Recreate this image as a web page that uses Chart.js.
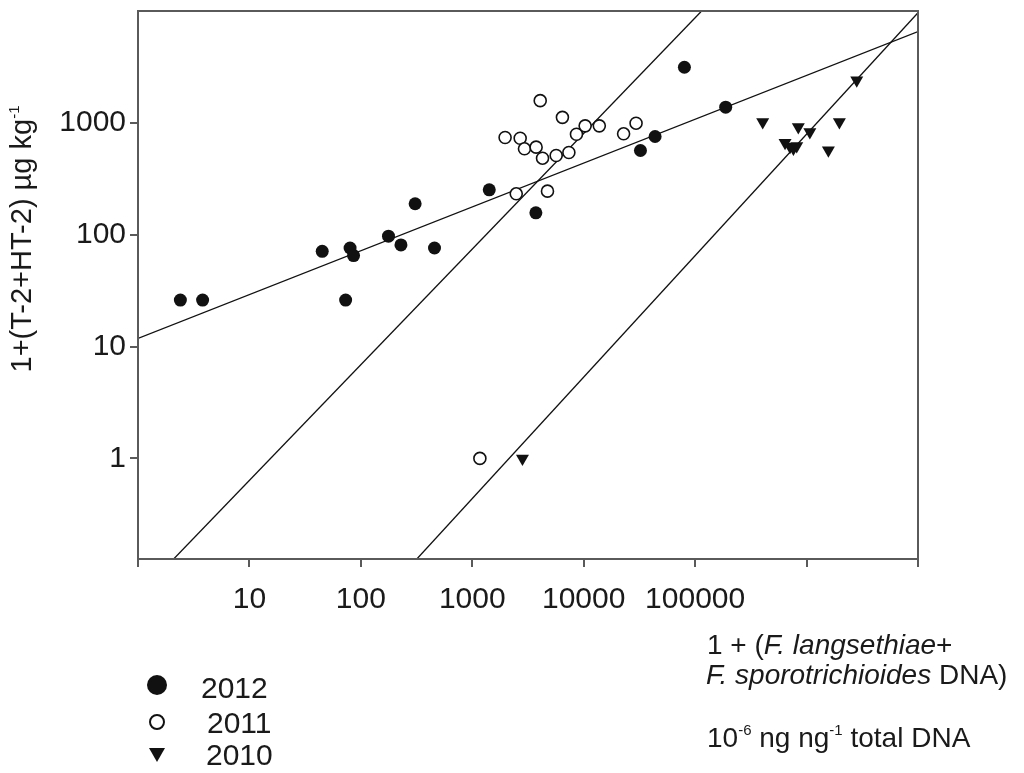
<!DOCTYPE html>
<html>
<head>
<meta charset="utf-8">
<script src="https://cdn.jsdelivr.net/npm/chart.js@4.4.1/dist/chart.umd.min.js"></script>
<style>
  body { margin: 0; background: #fff; }
  #wrap { position: relative; width: 1024px; height: 773px; overflow: hidden; font-family: "Liberation Sans", Arial, sans-serif; color: #1a1a1a; }
  #chart { position: absolute; left: 0; top: 0; }
  .txt { position: absolute; white-space: nowrap; font-size: 28px; line-height: 32px; }
  .txt sup { font-size: 15px; vertical-align: 12px; line-height: 0; }
  #ytitle { left: -179px; top: 223px; width: 400px; text-align: center; transform: rotate(-90deg); font-size: 29px; }
  .leg { position: absolute; white-space: nowrap; font-size: 30px; line-height: 34px; }
  .mk { position: absolute; box-sizing: border-box; }
</style>
</head>
<body>
<div id="wrap">
  <canvas id="chart" width="1024" height="773"></canvas>
  <div class="txt" id="ytitle">1+(T-2+HT-2) µg kg<sup>-1</sup></div>
  <div class="txt" style="left:707px; top:629px;">1 + (<i>F. langsethiae</i>+</div>
  <div class="txt" style="left:706px; top:659px;"><i>F. sporotrichioides</i> DNA)</div>
  <div class="txt" style="left:707px; top:722px;">10<sup>-6</sup> ng ng<sup>-1</sup> total DNA</div>

  <div class="mk" style="left:147px; top:675px; width:20px; height:20px; border-radius:50%; background:#111;"></div>
  <div class="leg" style="left:201px; top:671px;">2012</div>
  <div class="mk" style="left:149px; top:714px; width:16px; height:16px; border-radius:50%; border:2.5px solid #111; background:#fff;"></div>
  <div class="leg" style="left:207px; top:706px;">2011</div>
  <div class="mk" style="left:149px; top:748px; width:0; height:0; border-left:8px solid transparent; border-right:8px solid transparent; border-top:14px solid #111;"></div>
  <div class="leg" style="left:206px; top:738px;">2010</div>
</div>

<script>
// tick positions and labels
const xTicks = [1, 10, 100, 1000, 10000, 100000, 1000000, 10000000];
const xTickLabels = ['', '10', '100', '1000', '10000', '100000', '', ''];
const yTicks = [1, 10, 100, 1000];
const yTickLabels = ['1', '10', '100', '1000'];

// 2012 (filled circles)
const x2012 = [2.4, 3.8, 45, 80, 86, 73, 177, 229, 307, 458, 1420, 3720, 32300, 43700, 80100, 188000];
const y2012 = [26, 26, 71, 76, 65, 26, 97, 81, 189, 76, 252, 157, 566, 755, 3140, 1380];

// 2011 (open circles)
const x2011 = [1170, 1970, 2480, 2690, 2940, 3740, 4070, 4270, 4730, 5660, 6440, 7360, 8610, 10300, 13800, 22800, 29500];
const y2011 = [1, 739, 232, 729, 586, 606, 1580, 483, 245, 511, 1120, 543, 791, 940, 940, 798, 993];

// 2010 (down triangles)
const x2010 = [2820, 404000, 641000, 711000, 762000, 816000, 843000, 1070000, 1570000, 1970000, 2820000];
const y2010 = [1, 1020, 665, 610, 590, 620, 920, 830, 570, 1020, 2400];

// fitted lines, end points
const fit2012X = [1, 10000000];
const fit2012Y = [11.8, 6550];
const fit2011X = [2.09, 112700];
const fit2011Y = [0.126, 9860];
const fit2010X = [318, 10000000];
const fit2010Y = [0.126, 9640];

const toPoints = (xs, ys) => xs.map((x, i) => ({ x: x, y: ys[i] }));

const framePlugin = {
    id: 'frame',
    afterDraw(chart) {
        const { ctx, chartArea: a } = chart;
        ctx.save();
        ctx.strokeStyle = '#5a5a5a';
        ctx.lineWidth = 2;
        ctx.strokeRect(a.left, a.top, a.right - a.left, a.bottom - a.top);
        ctx.restore();
    }
};

const fitLine = (xs, ys) => ({
    type: 'line',
    data: toPoints(xs, ys),
    borderColor: '#111',
    borderWidth: 1.3,
    pointRadius: 0,
    fill: false,
    order: 2
});

// no extra room for half tick labels at the axis ends
const noPad = scale => {
    scale.paddingTop = 0;
    scale.paddingBottom = 0;
    scale.paddingLeft = 0;
    scale.paddingRight = 0;
};

const ctx = document.getElementById('chart').getContext('2d');
new Chart(ctx, {
    type: 'scatter',
    data: {
        datasets: [
            {
                label: '2012',
                data: toPoints(x2012, y2012),
                pointStyle: 'circle',
                pointRadius: 6.5,
                backgroundColor: '#111',
                borderColor: '#111',
                borderWidth: 0,
                order: 1
            },
            {
                label: '2011',
                data: toPoints(x2011, y2011),
                pointStyle: 'circle',
                pointRadius: 6,
                backgroundColor: '#fff',
                borderColor: '#111',
                borderWidth: 1.6,
                order: 1
            },
            {
                label: '2010',
                data: toPoints(x2010, y2010),
                pointStyle: 'triangle',
                rotation: 180,
                pointRadius: 7.5,
                backgroundColor: '#111',
                borderColor: '#111',
                borderWidth: 0,
                order: 1
            },
            fitLine(fit2012X, fit2012Y),
            fitLine(fit2011X, fit2011Y),
            fitLine(fit2010X, fit2010Y)
        ]
    },
    options: {
        responsive: false,
        animation: false,
        layout: {
            padding: { left: 0, top: 11, right: 106, bottom: 0 }
        },
        plugins: {
            legend: { display: false },
            tooltip: { enabled: false }
        },
        scales: {
            x: {
                type: 'logarithmic',
                min: 1,
                max: 10000000,
                afterBuildTicks: scale => {
                    scale.ticks = xTicks.map(v => ({ value: v }));
                },
                afterFit: scale => {
                    scale.height = 214;
                    noPad(scale);
                },
                grid: {
                    drawOnChartArea: false,
                    drawTicks: true,
                    tickLength: 8,
                    color: '#5a5a5a',
                    lineWidth: 2
                },
                border: { color: '#5a5a5a', width: 2 },
                ticks: {
                    autoSkip: false,
                    maxRotation: 0,
                    padding: 15,
                    color: '#1a1a1a',
                    font: { family: 'Liberation Sans', size: 30 },
                    callback: (value, index) => xTickLabels[index]
                }
            },
            y: {
                type: 'logarithmic',
                min: 0.126,
                max: 10000,
                afterBuildTicks: scale => {
                    scale.ticks = yTicks.map(v => ({ value: v }));
                },
                afterFit: scale => {
                    scale.width = 138;
                    noPad(scale);
                },
                grid: {
                    drawOnChartArea: false,
                    drawTicks: true,
                    tickLength: 8,
                    color: '#5a5a5a',
                    lineWidth: 2
                },
                border: { color: '#5a5a5a', width: 2 },
                ticks: {
                    autoSkip: false,
                    padding: 4,
                    color: '#1a1a1a',
                    font: { family: 'Liberation Sans', size: 30 },
                    callback: (value, index) => yTickLabels[index]
                }
            }
        }
    },
    plugins: [framePlugin]
});
</script>
</body>
</html>
